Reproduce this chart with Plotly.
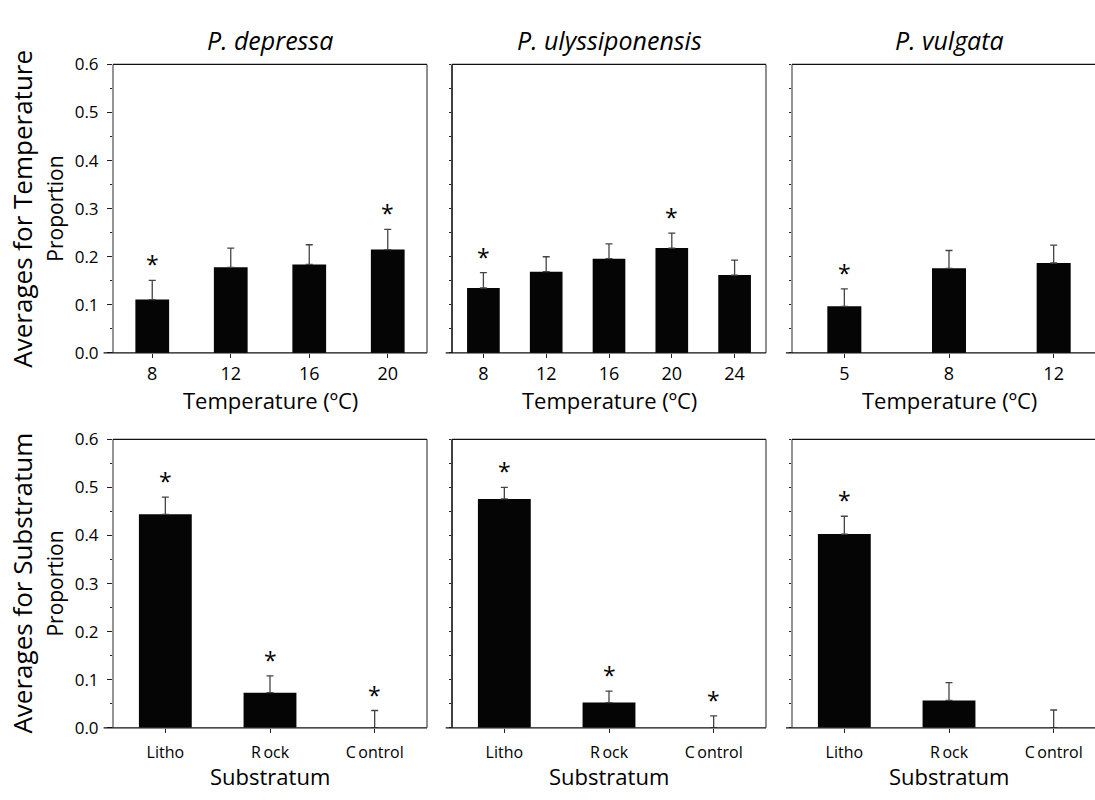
import plotly.graph_objects as go

# ---------------- data ----------------
species = ["P. depressa", "P. ulyssiponensis", "P. vulgata"]

temp_cats_dep = ["8", "12", "16", "20"]
temp_vals_dep = [0.111, 0.178, 0.184, 0.215]
temp_err_dep = [0.040, 0.040, 0.041, 0.042]
temp_sig_dep = [True, False, False, True]

temp_cats_uly = ["8", "12", "16", "20", "24"]
temp_vals_uly = [0.135, 0.169, 0.196, 0.218, 0.162]
temp_err_uly = [0.032, 0.031, 0.031, 0.031, 0.031]
temp_sig_uly = [True, False, False, True, False]

temp_cats_vul = ["5", "8", "12"]
temp_vals_vul = [0.097, 0.176, 0.187]
temp_err_vul = [0.036, 0.037, 0.037]
temp_sig_vul = [True, False, False]

sub_cats = ["Litho", "R\u2009ock", "C\u2009ontrol"]
sub_vals_dep = [0.444, 0.073, 0.0]
sub_err_dep = [0.036, 0.035, 0.036]
sub_sig_dep = [True, True, True]

sub_vals_uly = [0.476, 0.0525, 0.0]
sub_err_uly = [0.024, 0.024, 0.025]
sub_sig_uly = [True, True, True]

sub_vals_vul = [0.403, 0.057, 0.0]
sub_err_vul = [0.037, 0.037, 0.037]
sub_sig_vul = [True, False, False]

y_tick_vals = [0.0, 0.1, 0.2, 0.3, 0.4, 0.5, 0.6]
y_tick_text = ["0.0", "0.1", "0.2", "0.3", "0.4", "0.5", "0.6"]

# ---------------- layout geometry ----------------
W, H = 1095, 800
FONT = "Open Sans"
panel_px = [(113, 427), (452, 766), (792, 1106)]
row_px = [(54, 351), (440, 737)]
xtitle_y = [399, 787]

panels = [
    # (row, col, cats, vals, errs, sig, barwidth)
    (0, 0, temp_cats_dep, temp_vals_dep, temp_err_dep, temp_sig_dep, 0.43),
    (0, 1, temp_cats_uly, temp_vals_uly, temp_err_uly, temp_sig_uly, 0.52),
    (0, 2, temp_cats_vul, temp_vals_vul, temp_err_vul, temp_sig_vul, 0.325),
    (1, 0, sub_cats, sub_vals_dep, sub_err_dep, sub_sig_dep, 0.505),
    (1, 1, sub_cats, sub_vals_uly, sub_err_uly, sub_sig_uly, 0.505),
    (1, 2, sub_cats, sub_vals_vul, sub_err_vul, sub_sig_vul, 0.505),
]

fig = go.Figure()
layout = dict(
    width=W, height=H, margin=dict(l=0, r=0, t=0, b=0),
    paper_bgcolor="white", plot_bgcolor="white", showlegend=False,
    font=dict(family=FONT, color="black"),
)
annotations = []
shapes = []

for i, (r, c, cats, vals, errs, sig, bw) in enumerate(panels):
    idx = i + 1
    xa = "x" if idx == 1 else f"x{idx}"
    ya = "y" if idx == 1 else f"y{idx}"
    xkey = "xaxis" if idx == 1 else f"xaxis{idx}"
    ykey = "yaxis" if idx == 1 else f"yaxis{idx}"
    x0p, x1p = panel_px[c]
    y0p, y1p = row_px[r]
    n = len(cats)
    x1_vis = min(x1p, W)
    dom_x = [x0p / W, x1_vis / W]
    dom_y = [1 - y1p / H, 1 - y0p / H]
    xr_hi = -0.5 + n * (x1_vis - x0p) / (x1p - x0p)

    fig.add_trace(go.Bar(
        x=list(range(n)), y=vals, width=bw,
        marker=dict(color="#050505", line=dict(width=0)),
        error_y=dict(type="data", array=errs, arrayminus=[0] * n, symmetric=False,
                     color="#444444", thickness=1.3, width=3.5),
        xaxis=xa, yaxis=ya, hoverinfo="skip",
    ))

    layout[xkey] = dict(
        domain=dom_x, range=[-0.5, xr_hi], anchor=ya,
        tickmode="array", tickvals=list(range(n)), ticktext=cats,
        ticks="outside", ticklen=4, tickcolor="#222222", tickwidth=1,
        showline=False, showgrid=False, zeroline=False,
        tickfont=dict(family=FONT, size=18 if r == 0 else 16, color="black"),
        ticklabelstandoff=0 if r == 0 else 6,
        fixedrange=True,
    )
    layout[ykey] = dict(
        domain=dom_y, range=[0, 0.6], anchor=xa,
        tickmode="array", tickvals=y_tick_vals,
        ticktext=y_tick_text if c == 0 else [""] * len(y_tick_vals),
        showticklabels=(c == 0),
        ticks="outside", ticklen=5, tickcolor="#222222", tickwidth=1,
        minor=dict(dtick=0.05, ticks="outside", ticklen=2.5, tickcolor="#222222", tickwidth=1),
        showline=False, showgrid=False, zeroline=False,
        tickfont=dict(family=FONT, size=17, color="black"),
        ticklabelstandoff=5,
        fixedrange=True,
    )

    # frame: left gray (col 0, 2), others black
    left_col = "#7a7a7a" if c != 1 else "#111111"
    shapes.append(dict(type="line", xref=f"{xa} domain", yref=f"{ya} domain",
                       x0=0, x1=0, y0=0, y1=1, line=dict(color=left_col, width=1.6)))
    shapes.append(dict(type="line", xref=f"{xa} domain", yref=f"{ya} domain",
                       x0=0, x1=1, y0=1, y1=1, line=dict(color="#111111", width=1.3)))
    shapes.append(dict(type="line", xref=f"{xa} domain", yref=f"{ya} domain",
                       x0=-0.03 if c == 0 else -0.02, x1=1, y0=0, y1=0,
                       line=dict(color="#111111", width=1.3)))
    if c != 2:
        shapes.append(dict(type="line", xref=f"{xa} domain", yref=f"{ya} domain",
                           x0=1, x1=1, y0=0, y1=1, line=dict(color="#333333", width=1.1)))

    # significance asterisks
    for k in range(n):
        if sig[k]:
            annotations.append(dict(
                x=k, y=vals[k] + errs[k], xref=xa, yref=ya, text="*",
                showarrow=False, yanchor="bottom", yshift=-2,
                font=dict(family=FONT, size=23, color="black"),
            ))

    # species titles
    if r == 0:
        annotations.append(dict(
            x=((x0p + x1p) / 2) / W, y=1 - 29 / H, xref="paper", yref="paper",
            text=f"<i>{species[c]}</i>", showarrow=False,
            xanchor="center", yanchor="middle",
            font=dict(family=FONT, size=25, color="black"),
        ))
    # x titles
    annotations.append(dict(
        x=((x0p + x1p) / 2) / W, y=1 - xtitle_y[r] / H,
        xref="paper", yref="paper",
        text="Temperature (ºC)" if r == 0 else "Substratum", showarrow=False,
        xanchor="center", yanchor="middle",
        font=dict(family=FONT, size=22, color="black"),
    ))

# left-side row labels
for r, big in enumerate(["Averages for Temperature", "Averages for Substratum"]):
    yc = 1 - ((row_px[r][0] + row_px[r][1]) / 2) / H
    annotations.append(dict(
        x=22 / W, y=yc, xref="paper", yref="paper", text=big, textangle=-90,
        showarrow=False, xanchor="center", yanchor="middle",
        font=dict(family=FONT, size=26, color="black"),
    ))
    annotations.append(dict(
        x=55 / W, y=yc, xref="paper", yref="paper", text="Proportion", textangle=-90,
        showarrow=False, xanchor="center", yanchor="middle",
        font=dict(family=FONT, size=21, color="black"),
    ))

layout["annotations"] = annotations
layout["shapes"] = shapes
fig.update_layout(**layout)
fig.write_html("out.html")
